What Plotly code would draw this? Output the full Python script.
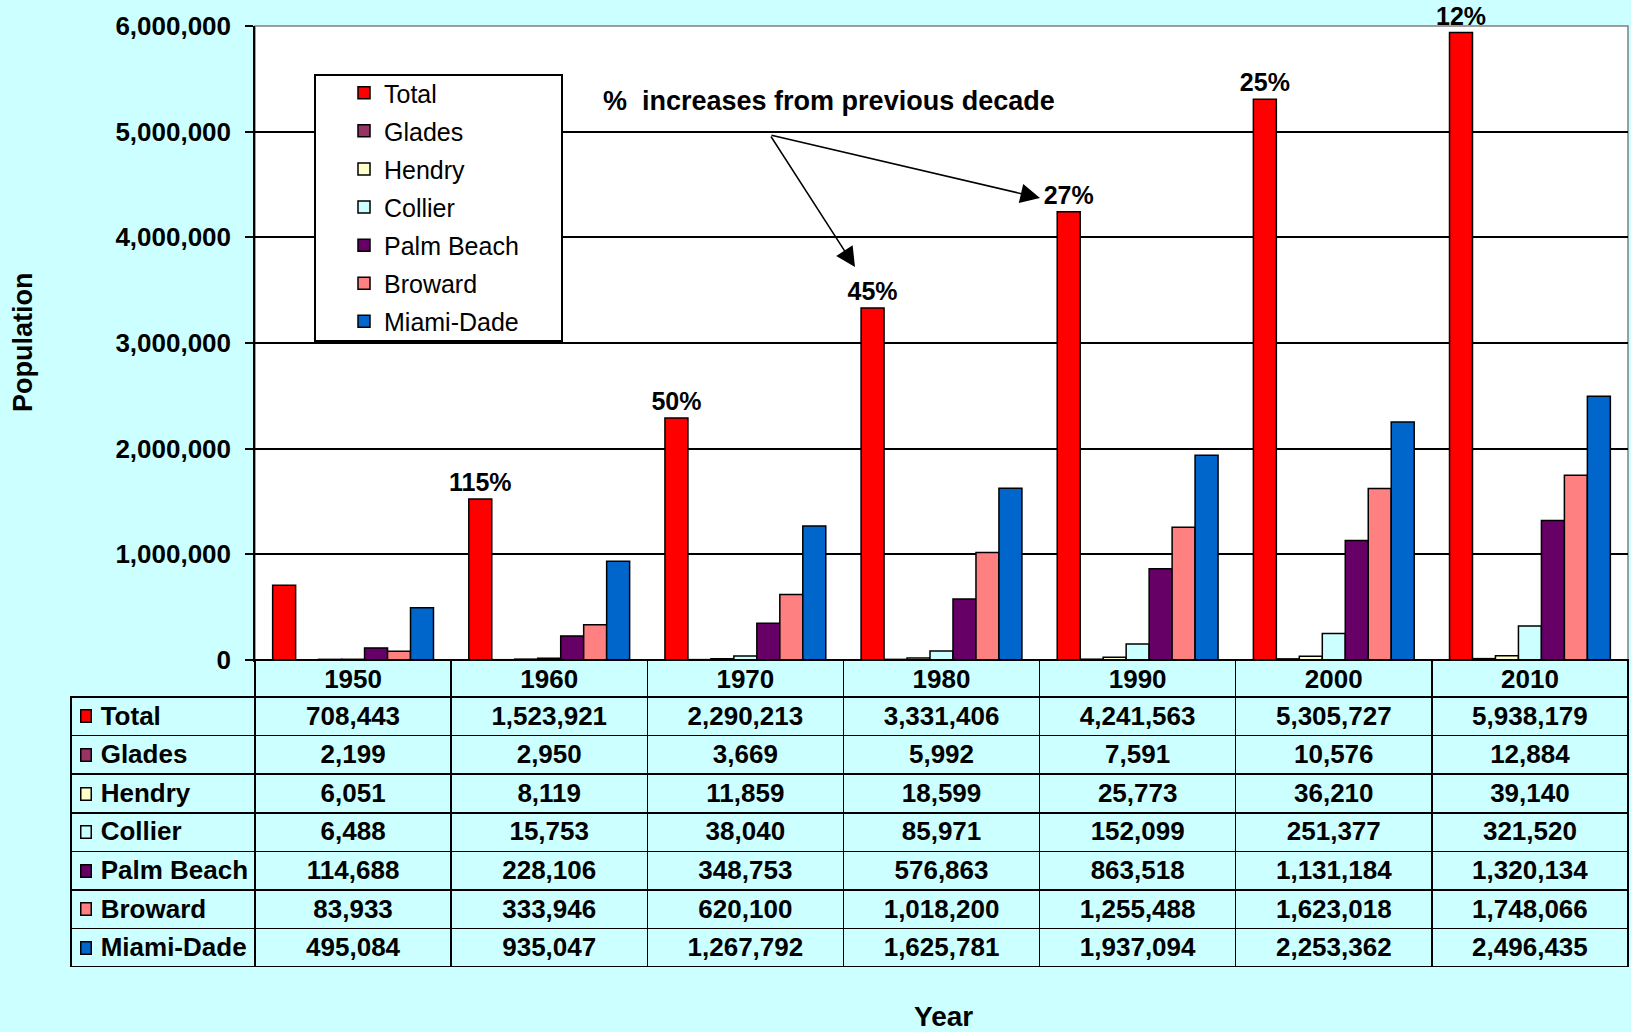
import plotly.graph_objects as go

years = ["1950", "1960", "1970", "1980", "1990", "2000", "2010"]
total = [708443, 1523921, 2290213, 3331406, 4241563, 5305727, 5938179]
glades = [2199, 2950, 3669, 5992, 7591, 10576, 12884]
hendry = [6051, 8119, 11859, 18599, 25773, 36210, 39140]
collier = [6488, 15753, 38040, 85971, 152099, 251377, 321520]
palm_beach = [114688, 228106, 348753, 576863, 863518, 1131184, 1320134]
broward = [83933, 333946, 620100, 1018200, 1255488, 1623018, 1748066]
miami_dade = [495084, 935047, 1267792, 1625781, 1937094, 2253362, 2496435]
pct_increase = ["", "115%", "50%", "45%", "27%", "25%", "12%"]

names = ["Total", "Glades", "Hendry", "Collier", "Palm Beach", "Broward", "Miami-Dade"]
colors = ["#FF0000", "#993366", "#FFFFCC", "#CCFFFF", "#660066", "#FF8080", "#0066CC"]
series = [total, glades, hendry, collier, palm_beach, broward, miami_dade]

BG = "#CCFFFF"
NONE = "rgba(0,0,0,0)"
FONT = "Liberation Sans, Arial, sans-serif"

# page geometry (px)
W, H = 1631, 1032
ML, MR, MT, MB = 71, 3, 26, 65
PW, PH = W - ML - MR, H - MT - MB


def px(x):
    return (x - ML) / PW


def py(y):
    return (H - MB - y) / PH


plot_left, plot_bottom = 255, 660
head_h, row_h = 37, 38.6
row0 = plot_bottom + head_h  # top of first data row

fig = go.Figure()

for name, vals, col in zip(names, series, colors):
    fig.add_trace(
        go.Bar(
            name=name,
            x=years,
            y=vals,
            legendgroup=name,
            marker=dict(color=col, line=dict(color="black", width=1.5)),
            text=pct_increase if name == "Total" else None,
            textposition="outside" if name == "Total" else None,
            textfont=dict(family=FONT, size=25, color="black", weight="bold"),
            constraintext="none",
            cliponaxis=False,
            hoverinfo="skip",
        )
    )

# data table under the chart, first column holds the row labels
tfont = dict(family=FONT, size=26, color="black", weight="bold")
fig.add_trace(
    go.Table(
        domain=dict(x=[0, 1], y=[0, py(plot_bottom)]),
        columnwidth=[plot_left - ML] + [(W - MR - plot_left) / len(years)] * len(years),
        header=dict(
            values=[""] + years,
            height=head_h,
            fill_color=[NONE] + [BG] * len(years),
            line=dict(color=[NONE] + ["black"] * len(years), width=1.5),
            align="center",
            font=tfont,
        ),
        cells=dict(
            values=[["\u00a0\u00a0\u00a0" + n.replace(" ", "\u00a0") for n in names]]
            + [[s[i] for s in series] for i in range(len(years))],
            format=[""] + [","] * len(years),
            height=row_h,
            fill_color=BG,
            line=dict(color="black", width=1.5),
            align=["left"] + ["center"] * len(years),
            font=tfont,
        ),
    )
)

# colour keys beside the row labels
keys = [
    dict(text="\u00a0", xref="paper", yref="paper", x=px(86), y=py(row0 + row_h * (i + 0.5)),
         xanchor="center", yanchor="middle", showarrow=False, width=9, height=11,
         bgcolor=c, bordercolor="black", borderwidth=1.5, borderpad=0, font=dict(size=8))
    for i, c in enumerate(colors)
]

fig.update_layout(
    width=W,
    height=H,
    margin=dict(l=ML, r=MR, t=MT, b=MB),
    paper_bgcolor=BG,
    plot_bgcolor="white",
    font=dict(family=FONT, color="black"),
    barmode="group",
    bargap=0.18,
    bargroupgap=0,
    showlegend=True,
    legend=dict(
        x=px(315), y=py(70), xanchor="left", yanchor="top",
        bgcolor=NONE, borderwidth=0,
        font=dict(family=FONT, size=25, color="black"),
        indentation=29,
        tracegroupgap=2.6,
        traceorder="grouped",
    ),
    xaxis=dict(
        domain=[px(plot_left), 1],
        type="category",
        showticklabels=False,
        showgrid=False,
        ticks="",
        showline=True, linecolor="black", linewidth=1.5,
    ),
    yaxis=dict(
        domain=[py(plot_bottom), 1],
        range=[0, 6000000],
        tickvals=[0, 1000000, 2000000, 3000000, 4000000, 5000000, 6000000],
        tickformat=",",
        showgrid=True, gridcolor="black", gridwidth=1.5,
        zeroline=False,
        showline=True, linecolor="black", linewidth=1.5,
        ticks="outside", ticklen=8, tickcolor="black", tickwidth=1.5,
        ticklabelstandoff=9,
        tickfont=dict(family=FONT, size=26, color="black", weight="bold"),
    ),
    shapes=[
        # grey plot border
        dict(type="rect", xref="x domain", yref="y domain", x0=0, x1=1, y0=0, y1=1,
             line=dict(color="#808080", width=1.5), layer="below"),
        # legend box
        dict(type="rect", xref="paper", yref="paper", x0=px(315), x1=px(562), y0=py(341), y1=py(75),
             fillcolor="white", line=dict(color="black", width=2), layer="above"),
    ],
    annotations=keys + [
        dict(text="%  increases from previous decade", xref="paper", yref="paper",
             x=px(601), y=py(101), xanchor="left", yanchor="middle", showarrow=False,
             font=dict(family=FONT, size=27, color="black", weight="bold")),
        dict(text="", xref="paper", yref="paper", x=px(855), y=py(267),
             ax=770 - 855, ay=135 - 267, showarrow=True,
             arrowhead=2, arrowsize=2.6, arrowwidth=1.5, arrowcolor="black", standoff=0),
        dict(text="", xref="paper", yref="paper", x=px(1040), y=py(198),
             ax=770 - 1040, ay=135 - 198, showarrow=True,
             arrowhead=2, arrowsize=2.6, arrowwidth=1.5, arrowcolor="black", standoff=0),
        dict(text="Population", xref="paper", yref="paper", x=px(23), y=py(343),
             xanchor="center", yanchor="middle", textangle=-90, showarrow=False,
             font=dict(family=FONT, size=27, color="black", weight="bold")),
        dict(text="Year", xref="paper", yref="paper", x=px(943), y=py(1016),
             xanchor="center", yanchor="middle", showarrow=False,
             font=dict(family=FONT, size=28, color="black", weight="bold")),
    ],
)

fig.write_html("out.html", config=dict(displayModeBar=False),
               post_script="document.body.style.margin='0';")
